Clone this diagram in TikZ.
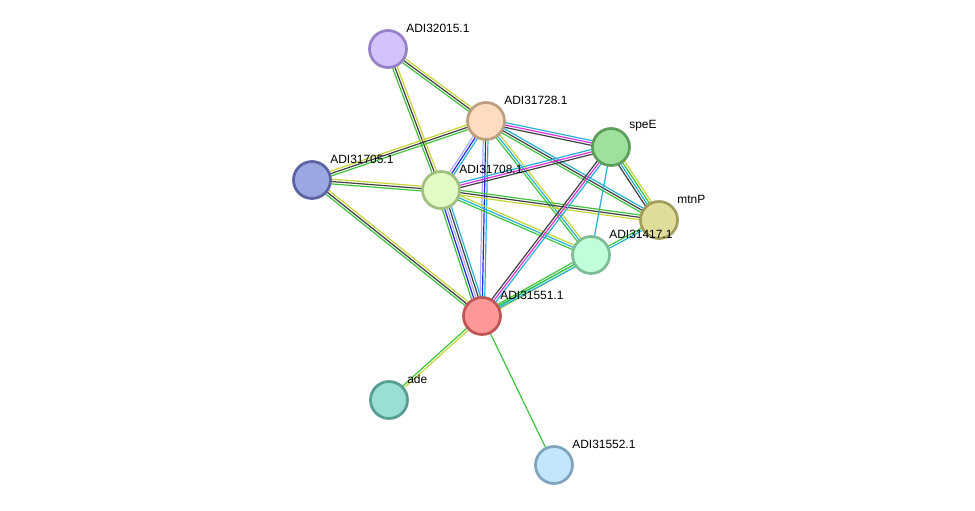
\documentclass[tikz,border=0pt]{standalone}
\usepackage{fontspec}
\setmainfont{Liberation Sans}
\usetikzlibrary{calc,backgrounds}

% evidence colours
\definecolor{evGreen}{RGB}{61,196,61}
\definecolor{evBlack}{RGB}{64,64,64}
\definecolor{evYellow}{RGB}{198,212,52}
\definecolor{evCyan}{RGB}{38,176,214}
\definecolor{evMagenta}{RGB}{222,48,222}
\definecolor{evBlue}{RGB}{36,36,232}
\definecolor{evLav}{RGB}{172,172,255}

% parallel evidence lines between two nodes
\newcommand{\links}[4]{%
  \foreach \c [count=\i] in {#4} {
    \pgfmathsetmacro\o{(\i-(#3+1)/2)*1.35}
    \draw[\c, line width=0.68pt] ($(#1)!\o pt!90:(#2)$) -- ($(#2)!\o pt!-90:(#1)$);
  }%
}

\tikzset{
  prot/.style={circle, minimum size=0.74cm, inner sep=0pt, line width=1.55pt},
  lbl/.style={anchor=west, inner sep=0pt, font=\fontsize{6.8}{8}\selectfont}
}

\begin{document}
\begin{tikzpicture}[x=0.02cm, y=-0.02cm]
  \useasboundingbox (0,0) rectangle (975,511);

  % proteins
  \node[prot, fill={rgb,255:red,212;green,194;blue,252}, draw={rgb,255:red,152;green,128;blue,200}] (n32015) at (388,49) {};
  \node[prot, fill={rgb,255:red,253;green,220;blue,192}, draw={rgb,255:red,190;green,158;blue,128}] (n31728) at (486,121) {};
  \node[prot, fill={rgb,255:red,159;green,224;blue,154}, draw={rgb,255:red,94;green,158;blue,90}] (speE) at (611,147) {};
  \node[prot, fill={rgb,255:red,156;green,166;blue,224}, draw={rgb,255:red,90;green,100;blue,160}] (n31705) at (312,180) {};
  \node[prot, fill={rgb,255:red,226;green,253;blue,196}, draw={rgb,255:red,160;green,192;blue,128}] (n31708) at (441,190) {};
  \node[prot, fill={rgb,255:red,224;green,220;blue,154}, draw={rgb,255:red,160;green,158;blue,90}] (mtnP) at (659,220) {};
  \node[prot, fill={rgb,255:red,192;green,253;blue,216}, draw={rgb,255:red,126;green,188;blue,150}] (n31417) at (591,255) {};
  \node[prot, fill={rgb,255:red,253;green,152;blue,152}, draw={rgb,255:red,190;green,86;blue,86}] (n31551) at (482,316) {};
  \node[prot, fill={rgb,255:red,152;green,224;blue,212}, draw={rgb,255:red,86;green,158;blue,146}] (ade) at (389,400) {};
  \node[prot, fill={rgb,255:red,194;green,230;blue,252}, draw={rgb,255:red,128;green,164;blue,190}] (n31552) at (554,465) {};

  % names
  \node[lbl] (t32015) at ($(n32015)+(18,-21)$) {ADI32015.1};
  \node[lbl] (t31728) at ($(n31728)+(18,-21)$) {ADI31728.1};
  \node[lbl] (tspeE) at ($(speE)+(18,-21)$) {speE};
  \node[lbl] (t31705) at ($(n31705)+(18,-21)$) {ADI31705.1};
  \node[lbl] (t31708) at ($(n31708)+(18,-21)$) {ADI31708.1};
  \node[lbl] (tmtnP) at ($(mtnP)+(18,-21)$) {mtnP};
  \node[lbl] (t31417) at ($(n31417)+(18,-21)$) {ADI31417.1};
  \node[lbl] (t31551) at ($(n31551)+(18,-21)$) {ADI31551.1};
  \node[lbl] (tade) at ($(ade)+(18,-21)$) {ade};
  \node[lbl] (t31552) at ($(n31552)+(18,-21)$) {ADI31552.1};

  % interactions
  \begin{scope}[on background layer]
    \links{n32015}{n31728}{3}{evGreen,evBlack,evYellow}
    \links{n32015}{n31708}{3}{evGreen,evBlack,evYellow}
    \links{n31705}{n31728}{3}{evGreen,evBlack,evYellow}
    \links{n31705}{n31708}{3}{evGreen,evBlack,evYellow}
    \links{n31705}{n31551}{3}{evGreen,evBlack,evYellow}
    \links{n31728}{speE}{3}{evBlack,evMagenta,evCyan}
    \links{n31728}{mtnP}{3}{evGreen,evBlack,evCyan}
    \links{n31728}{n31417}{3}{evGreen,evCyan,evYellow}
    \links{n31728}{n31708}{3}{evLav,evBlue,evCyan}
    \links{n31728}{n31551}{3}{evLav,evBlue,evCyan}
    \links{n31708}{speE}{3}{evBlack,evMagenta,evCyan}
    \links{n31708}{mtnP}{3}{evYellow,evBlack,evGreen}
    \links{n31708}{n31417}{3}{evGreen,evCyan,evYellow}
    \links{n31708}{n31551}{5}{evGreen,evBlue,evLav,evBlack,evCyan}
    \links{speE}{mtnP}{4}{evBlack,evCyan,evGreen,evYellow}
    \links{speE}{n31417}{1}{evCyan}
    \links{speE}{n31551}{3}{evBlack,evMagenta,evCyan}
    \links{n31551}{n31417}{3}{evYellow,evCyan,evGreen}
    \links{n31551}{mtnP}{2}{evCyan,evGreen}
    \links{n31551}{ade}{2}{evGreen,evYellow}
    \links{n31551}{n31552}{1}{evGreen}
  \end{scope}
\end{tikzpicture}
\end{document}
